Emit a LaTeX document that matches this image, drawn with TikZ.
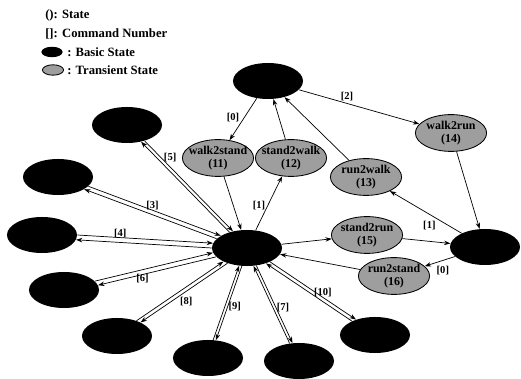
\documentclass[tikz,border=0pt]{standalone}
\usepackage{fontspec}
\setmainfont{Liberation Serif}
\usetikzlibrary{shapes.geometric,arrows.meta}
\tikzset{
	basic/.style={ellipse, fill=black, minimum width=1.75cm, minimum height=0.9cm, inner sep=0pt},
	transient/.style={ellipse, draw=black, line width=0.6pt, fill=black!38, minimum width=1.78cm, minimum height=0.92cm, inner sep=0pt, label={[tlabel]center:#1}},
	tlabel/.style={align=center, inner sep=0pt, font=\fontsize{8.5}{9.5}\selectfont\bfseries},
	legtext/.style={anchor=west, inner sep=0pt, font=\fontsize{9}{11}\selectfont\bfseries},
	cmd/.style={inner sep=1.5pt, font=\fontsize{7.5}{9}\selectfont\bfseries},
	tip/.style={-{Stealth[length=4.5pt,width=3.2pt]}, line width=0.5pt},
}
\newcommand\pairlink[5]{%
	\pgfmathanglebetweenpoints{\pgfpointanchor{#1}{center}}{\pgfpointanchor{#2}{center}}%
	\let\linkang\pgfmathresult
	\pgfmathtruncatemacro\angA{\linkang+4}%
	\pgfmathtruncatemacro\angB{\linkang+176}%
	\pgfmathtruncatemacro\angC{\linkang-4}%
	\pgfmathtruncatemacro\angD{\linkang+184}%
	\draw[tip] (#1.\angA) -- (#2.\angB);
	\draw[tip] (#2.\angD) -- (#1.\angC);
	\path (#1) -- (#2) node[cmd, pos=#4, #5] {#3};
}
\begin{document}
\begin{tikzpicture}[x=0.025cm, y=-0.025cm]
			%%%%% START %%%%%
			\useasboundingbox (0, 0) rectangle (521, 379);
			
			\node[legtext] (lstate) at (45, 15) {(): State};
			\node[legtext] (lcmd) at (45, 34) {[]: Command Number};
			\node[basic, minimum width=0.53cm, minimum height=0.26cm] (lbasic) at (52, 52) {};
			\node[legtext] (lbasictext) at (67, 52) {: Basic State};
			\node[ellipse, draw=black, line width=0.6pt, fill=black!38, minimum width=0.53cm, minimum height=0.26cm, inner sep=0pt] (ltrans) at (53, 70) {};
			\node[legtext] (ltranstext) at (67, 70) {: Transient State};
			
			\node[basic] (walk) at (268, 81) {};
			\node[basic] (hub) at (247, 248) {};
			\node[basic] (run) at (485, 247) {};
			
			\node[basic] (n5) at (127, 125) {};
			\node[basic] (n3) at (58, 177) {};
			\node[basic] (n4) at (42, 235) {};
			\node[basic] (n6) at (64, 290) {};
			\node[basic] (n8) at (117, 336) {};
			\node[basic] (n9) at (208, 358) {};
			\node[basic] (n7) at (299, 361) {};
			\node[basic] (n10) at (375, 335) {};
			
			\node[transient={walk2stand\\(11)}] (ws) at (218, 158) {};
			\node[transient={stand2walk\\(12)}] (sw) at (291, 158) {};
			\node[transient={run2walk\\(13)}] (rw) at (366, 177) {};
			\node[transient={walk2run\\(14)}] (wr) at (451, 133) {};
			\node[transient={stand2run\\(15)}] (sr) at (367, 235) {};
			\node[transient={run2stand\\(16)}] (rs) at (394, 276) {};
			
			\draw[tip] (walk) -- (ws) node[cmd, pos=0.45, left=2pt] {[0]};
			\draw[tip] (ws) -- (hub);
			\draw[tip] (hub) -- (sw) node[cmd, pos=0.45, left] {[1]};
			\draw[tip] (sw) -- (walk);
			\draw[tip] (walk) -- (wr) node[cmd, pos=0.4, above] {[2]};
			\draw[tip] (wr) -- (run);
			\draw[tip] (run) -- (rw) node[cmd, pos=0.45, below=3pt] {[1]};
			\draw[tip] (rw) -- (walk);
			\draw[tip] (hub) -- (sr);
			\draw[tip] (sr) -- (run);
			\draw[tip] (run) -- (rs) node[cmd, pos=0.4, below=2pt] {[0]};
			\draw[tip] (rs) -- (hub);
			
			\pairlink{n5}{hub}{[5]}{0.18}{right=2pt}
			\pairlink{n3}{hub}{[3]}{0.5}{above}
			\pairlink{n4}{hub}{[4]}{0.32}{above}
			\pairlink{n6}{hub}{[6]}{0.39}{below}
			\pairlink{n8}{hub}{[8]}{0.45}{below right}
			\pairlink{n9}{hub}{[9]}{0.45}{right}
			\pairlink{n7}{hub}{[7]}{0.46}{right}
			\pairlink{n10}{hub}{[10]}{0.36}{above}
			
			%%%%% END %%%%%
		\end{tikzpicture}
\end{document}
